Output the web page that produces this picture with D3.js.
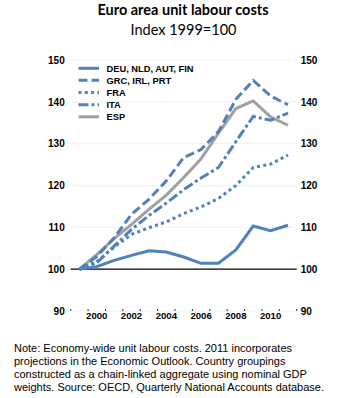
<!DOCTYPE html>
<html><head><meta charset="utf-8">
<script src="https://cdn.jsdelivr.net/npm/d3@7"></script>
<style>
html,body{margin:0;padding:0;background:#fff;}
svg{display:block;}
</style></head>
<body>
<svg id="chart" width="358" height="398"></svg>
<script>
const years = [1999,2000,2001,2002,2003,2004,2005,2006,2007,2008,2009,2010,2011];
const yearLabels = ["2000","2002","2004","2006","2008","2010"];
const yTicks = [90,100,110,120,130,140,150];
const seriesNames = ["DEU, NLD, AUT, FIN","GRC, IRL, PRT","FRA","ITA","ESP"];
const deu = [100,100.6,102.1,103.3,104.4,104.1,102.9,101.4,101.4,104.6,110.3,109.2,110.5];
const grc = [100,103.0,107.5,113.1,116.7,121.1,126.7,128.6,132.9,140.6,145.1,141.4,139.3];
const fra = [100,101.8,105.3,108.3,109.9,111.3,113.3,114.9,116.9,120.0,124.3,125.1,127.3];
const ita = [100,101.5,105.5,109.5,112.8,115.8,119.0,121.8,124.3,130.5,136.5,135.6,137.3];
const esp = [100,103.5,107.3,110.7,114.3,117.7,121.9,126.4,132.5,138.4,140.2,136.4,134.4];
const titleText = "Euro area unit labour costs";
const subtitleText = "Index 1999=100";
const noteLines = [
  "Note: Economy-wide unit labour costs. 2011 incorporates",
  "projections in the Economic Outlook. Country groupings",
  "constructed as a chain-linked aggregate using nominal GDP",
  "weights. Source: OECD, Quarterly National Accounts database."
];

const blue = "#4f81bd", gray = "#a0a0a0";
const styles = [
  {color: blue, dash: null},
  {color: blue, dash: "9,4"},
  {color: blue, dash: "3,3.3"},
  {color: blue, dash: "10,3,3,3"},
  {color: gray, dash: null}
];
const data = [deu, grc, fra, ita, esp];

const svg = d3.select("#chart");
const pLeft = 70.7, pRight = 296.7, pTop = 60, pBottom = 311;

const x = d3.scaleBand().domain(years).range([pLeft, pRight]);
const y = d3.scaleLinear().domain([90,150]).range([pBottom, pTop]);

// title
svg.append("text").attr("x",183).attr("y",15).attr("text-anchor","middle")
  .attr("font-family","Lato, 'Open Sans', sans-serif").attr("font-weight","bold").attr("font-size",14.5)
  .attr("fill","#000").text(titleText);
svg.append("text").attr("x",183.5).attr("y",35).attr("text-anchor","middle")
  .attr("font-family","Lato, 'Open Sans', sans-serif").attr("font-size",14.5)
  .attr("fill","#000").text(subtitleText);

// gridlines
svg.append("g").selectAll("line").data(yTicks.filter(d=>d!==100)).join("line")
  .attr("x1",pLeft).attr("x2",pRight).attr("y1",d=>y(d)).attr("y2",d=>y(d))
  .attr("stroke","#eeeefa").attr("stroke-width",1);

// left axis
const axL = svg.append("g").attr("transform",`translate(${pLeft},0)`)
  .call(d3.axisLeft(y).tickValues(yTicks).tickSize(0).tickPadding(6));
axL.select(".domain").remove();
axL.selectAll("text").attr("font-family","Arial, 'Liberation Sans', sans-serif")
  .attr("font-weight","bold").attr("font-size",10).attr("fill","#000");
// right axis
const axR = svg.append("g").attr("transform",`translate(${pRight},0)`)
  .call(d3.axisRight(y).tickValues(yTicks).tickSize(0).tickPadding(4));
axR.select(".domain").remove();
axR.selectAll("text").attr("font-family","Arial, 'Liberation Sans', sans-serif")
  .attr("font-weight","bold").attr("font-size",10).attr("fill","#000");

// bottom ticks at category boundaries
const bounds = years.map(d=>x(d)).concat([pRight]);
svg.append("g").selectAll("line").data(bounds).join("line")
  .attr("x1",d=>d).attr("x2",d=>d).attr("y1",pBottom-2).attr("y2",pBottom)
  .attr("stroke","#333").attr("stroke-width",1);

// year labels
svg.append("g").selectAll("text").data(yearLabels).join("text")
  .attr("x",d=>x(+d)+x.bandwidth()/2).attr("y",318.5).attr("text-anchor","middle")
  .attr("font-family","Arial, 'Liberation Sans', sans-serif").attr("font-weight","bold")
  .attr("font-size",9.6).attr("fill","#000").text(d=>d);

// 100 axis line
svg.append("line").attr("x1",pLeft).attr("x2",pRight).attr("y1",y(100)).attr("y2",y(100))
  .attr("stroke","#000").attr("stroke-width",1.2);

const line = d3.line().x((d,i)=>x(years[i])+x.bandwidth()/2).y(d=>y(d));
const order = [4,0,1,2,3];
order.forEach(k=>{
  svg.append("path").datum(data[k]).attr("d",line).attr("fill","none")
    .attr("stroke",styles[k].color).attr("stroke-width",3)
    .attr("stroke-dasharray",styles[k].dash).attr("stroke-linejoin","miter");
});

// legend
const lg = svg.append("g");
const legY = [68.3,80.2,92.5,104.8,116.8];
seriesNames.forEach((n,i)=>{
  lg.append("line").attr("x1",78.5).attr("x2",99).attr("y1",legY[i]).attr("y2",legY[i])
    .attr("stroke",styles[i].color).attr("stroke-width",3).attr("stroke-dasharray",styles[i].dash);
  lg.append("text").attr("x",106.5).attr("y",legY[i]+3.4)
    .attr("font-family","Arial, 'Liberation Sans', sans-serif").attr("font-weight","bold")
    .attr("font-size",9.3).attr("fill","#000").text(n);
});

// note
svg.append("g").selectAll("text").data(noteLines).join("text")
  .attr("x",14).attr("y",(d,i)=>351.5+i*13.2)
  .attr("font-family","Arial, 'Liberation Sans', sans-serif").attr("font-size",11)
  .attr("fill","#000").text(d=>d);
</script>
</body></html>
